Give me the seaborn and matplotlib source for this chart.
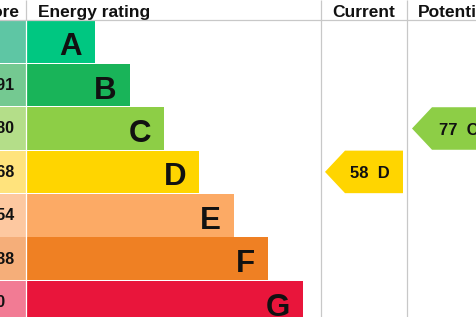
import matplotlib
matplotlib.use('Agg')
import matplotlib.pyplot as plt
import seaborn as sns
import pandas as pd
from matplotlib.patches import Polygon

# ---- data ----
bands = ['A', 'B', 'C', 'D', 'E', 'F', 'G']
score_ranges = ['92+', '81-91', '69-80', '55-68', '39-54', '21-38', '1-20']
bar_steps = [2, 3, 4, 5, 6, 7, 8]
current_score = 58
current_band = 'D'
potential_score = 77
potential_band = 'C'

# ---- styles ----
bar_colors = ['#00c781', '#19b459', '#8dce46', '#ffd500', '#fcaa65', '#ef8023', '#e9153b']
cell_colors = ['#5ec6a4', '#74c991', '#b4de89', '#ffe37c', '#fdc8a0', '#f5ae79', '#f27b94']
line_col = '#c8c8c8'

plt.rcParams['font.family'] = ['Liberation Sans', 'DejaVu Sans']

PX = 34.67  # pixels per step
ROW = 43.4  # pixels per row
X0 = 25.7   # origin of bar scale (px)


def xu(px):
    return (px - X0) / PX


def yu(px):
    return (px - 20) / ROW - 0.5


fig = plt.figure(figsize=(4.76, 3.17), dpi=100)
ax = fig.add_axes([0, 0, 1, 1])

df = pd.DataFrame({'band': bands, 'steps': bar_steps})
sns.barplot(data=df, x='steps', y='band', hue='band', palette=bar_colors,
            orient='h', width=0.98, legend=False, ax=ax, saturation=1,
            linewidth=0)

# score cells
ax.barh(range(len(bands)), xu(26) - xu(-40), left=xu(-40), height=0.98,
        color=cell_colors, linewidth=0, zorder=3)
ax.vlines(xu(26.5), -0.5, yu(317), color='white', lw=0.9, zorder=3)

for i, (b, s, st) in enumerate(zip(bands, score_ranges, bar_steps)):
    ax.text(xu(-26.5), i + 0.113, s, ha='left', va='baseline',
            fontsize=11.5, fontweight='bold', color='#111111', zorder=4)
    ax.text(st - 13 / PX, i + 0.31, b, ha='right', va='baseline',
            fontsize=22.5, fontweight='bold', color='#111111', zorder=4)

# grid lines
ytop, ybot = yu(0), yu(317)
ax.hlines(-0.5, xu(-10), xu(490), color=line_col, lw=0.9, zorder=5)
ax.vlines(xu(26.5), ytop, -0.5, color=line_col, lw=0.9)
ax.vlines([xu(321), xu(407)], ytop, ybot, color=line_col, lw=0.9)

# header
hy = yu(17)
hkw = dict(fontsize=12.5, fontweight='bold', va='baseline', color='#111111')
ax.text(xu(-4), hy, 'Score', ha='center', **hkw)
ax.text(xu(38), hy, 'Energy rating', ha='left', **hkw)
ax.text(xu(364), hy, 'Current', ha='center', **hkw)
ax.text(xu(418), hy, 'Potential', ha='left', **hkw)


def arrow(score, band, tip_px, right_px, text_px):
    i = bands.index(band)
    col = bar_colors[i]
    tip, sh, rt = xu(tip_px), xu(tip_px + 20), xu(right_px)
    h = 0.49
    poly = Polygon([(tip, i), (sh, i - h), (rt, i - h), (rt, i + h), (sh, i + h)],
                   closed=True, facecolor=col, edgecolor='none', zorder=3)
    ax.add_patch(poly)
    ax.text(xu(text_px), i + 0.14, f'{score}  {band}', ha='center', va='baseline',
            fontsize=12, fontweight='bold', color='#111111', zorder=4)


arrow(current_score, current_band, 325, 403, 369.5)
arrow(potential_score, potential_band, 412, 520, 459)

ax.set_xlim(xu(0), xu(476))
ax.set_ylim(ybot, ytop)
ax.axis('off')

fig.savefig('out.png', dpi=100)
